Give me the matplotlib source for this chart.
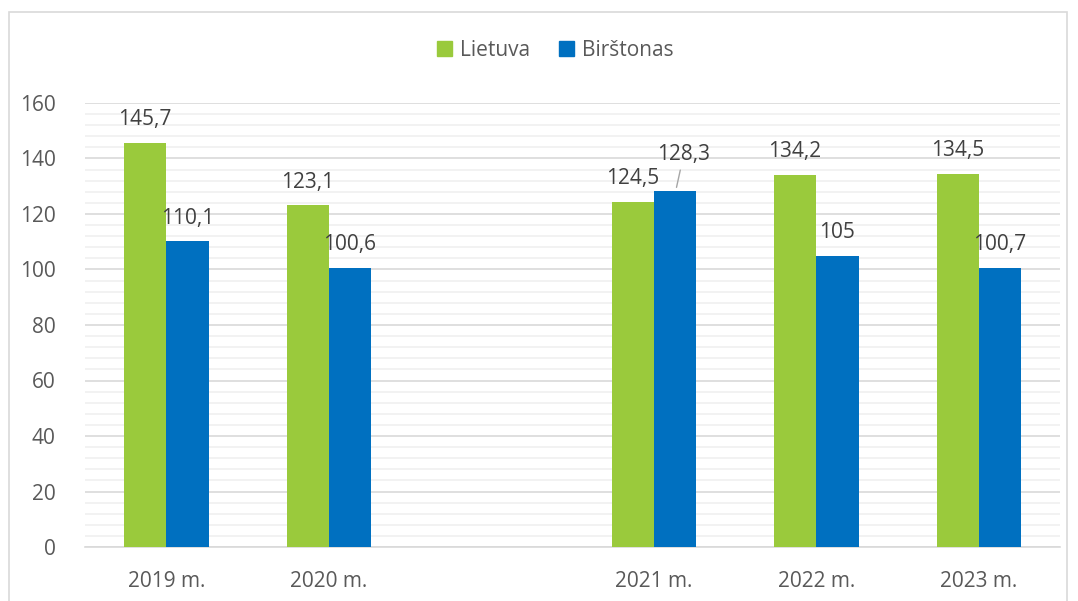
import matplotlib
matplotlib.use('Agg')
import matplotlib.pyplot as plt
from matplotlib.patches import Rectangle, Patch
from matplotlib.ticker import MultipleLocator

# data
years = ['2019 m.', '2020 m.', '', '2021 m.', '2022 m.', '2023 m.']
lietuva = [145.7, 123.1, None, 124.5, 134.2, 134.5]
birstonas = [110.1, 100.6, None, 128.3, 105, 100.7]
lietuva_lbl = ['145,7', '123,1', '', '124,5', '134,2', '134,5']
birstonas_lbl = ['110,1', '100,6', '', '128,3', '105', '100,7']

green = '#9ACA3C'
blue = '#0070C0'
txt = '#595959'
plt.rcParams['font.family'] = ['Open Sans', 'DejaVu Sans']
fs = 15

fig = plt.figure(figsize=(10.78, 6.01), dpi=100)
ax = fig.add_axes([85/1078, 1-547/601, 975/1078, 444/601])

w = 0.26
for i in range(len(years)):
    if lietuva[i] is None:
        continue
    ax.bar(i - w/2, lietuva[i], w, color=green, zorder=3)
    ax.bar(i + w/2, birstonas[i], w, color=blue, zorder=3)
    ax.text(i - w/2, lietuva[i] + 4.5, lietuva_lbl[i], ha='center', va='bottom',
            fontsize=fs, color='#404040')
    if years[i] == '2021 m.':
        # label pushed up with a leader line
        ax.annotate(birstonas_lbl[i], xy=(i + w/2 + 0.01, birstonas[i] + 1.3),
                    xytext=(i + w/2 + 0.055, birstonas[i] + 9.5), ha='center', va='bottom',
                    fontsize=fs, color='#404040',
                    arrowprops=dict(arrowstyle='-', color='#A6A6A6', lw=1,
                                    shrinkA=2, shrinkB=0))
    else:
        ax.text(i + w/2, birstonas[i] + 4.5, birstonas_lbl[i], ha='center', va='bottom',
                fontsize=fs, color='#404040')

ax.set_xlim(-0.5, len(years) - 0.5)
ax.set_ylim(0, 160)
ax.set_xticks(range(len(years)))
ax.set_xticklabels(years)
ax.yaxis.set_major_locator(MultipleLocator(20))
ax.yaxis.set_minor_locator(MultipleLocator(4))
ax.grid(axis='y', which='major', color='#D9D9D9', lw=1.2, zorder=0)
ax.grid(axis='y', which='minor', color='#F0F0F0', lw=1.2, zorder=0)
for s in ['top', 'right', 'left']:
    ax.spines[s].set_visible(False)
ax.spines['bottom'].set_color('#D9D9D9')
ax.spines['bottom'].set_linewidth(1.2)
ax.tick_params(axis='both', which='both', length=0, labelsize=fs, colors=txt)
ax.tick_params(axis='x', pad=17)
ax.tick_params(axis='y', pad=21)

handles = [Patch(color=green, label='Lietuva'), Patch(color=blue, label='Birštonas')]
leg = fig.legend(handles=handles, loc='center', bbox_to_anchor=(555/1078, 1-50/601),
                 ncol=2, frameon=False, fontsize=fs, handlelength=0.75, handleheight=0.75,
                 handletextpad=0.35, columnspacing=1.4)
for t in leg.get_texts():
    t.set_color(txt)

fig.patches.append(Rectangle((9/1078, -0.01), 1058/1078, 1-12/601 + 0.01,
                             transform=fig.transFigure, fill=False,
                             edgecolor='#D9D9D9', lw=1.2))

plt.savefig('out.png', dpi=100)
